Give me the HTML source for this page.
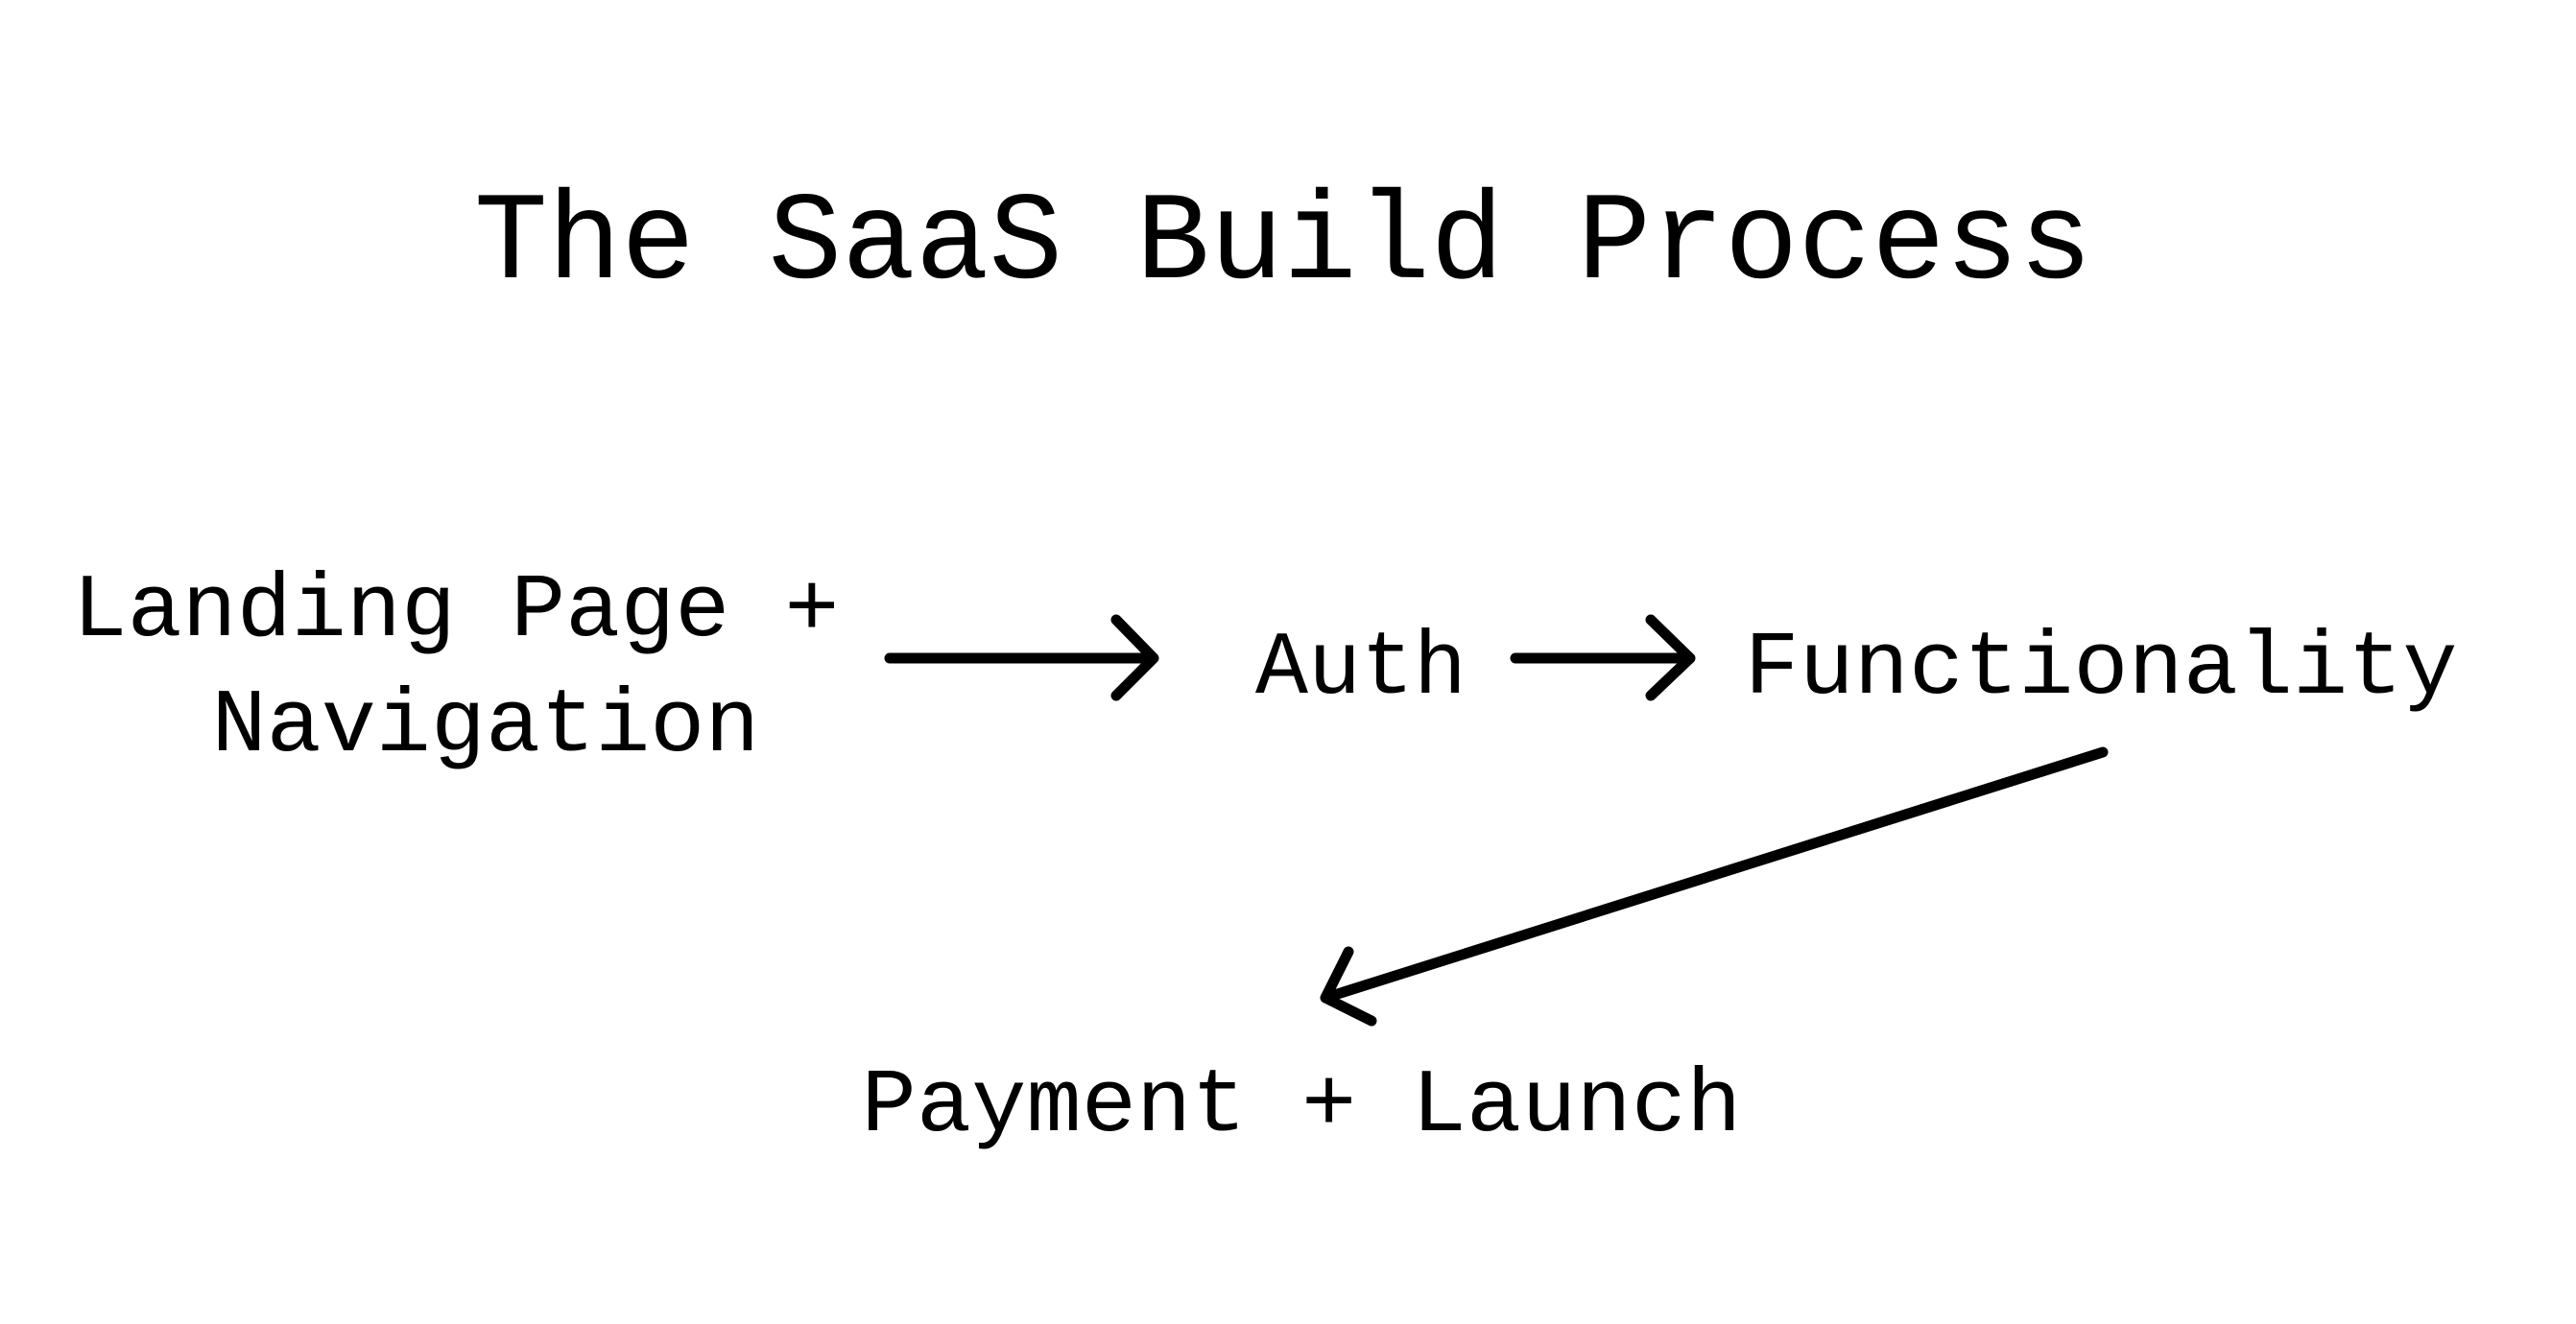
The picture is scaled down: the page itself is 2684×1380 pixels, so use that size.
<!DOCTYPE html>
<html><head><meta charset="utf-8"><style>
html,body{margin:0;padding:0;background:#fff;}
body{width:2684px;height:1380px;position:relative;overflow:hidden;}
svg{position:absolute;left:0;top:0;}
text{font-family:"Liberation Mono",monospace;fill:#000;}
</style></head><body>
<svg width="2684" height="1380" viewBox="0 0 2684 1380">
<g transform="translate(-8,-9)">
<text x="1345" y="298" font-size="130" text-anchor="middle" textLength="1686" lengthAdjust="spacingAndGlyphs">The SaaS Build Process</text>
<text x="483" y="671" font-size="94" text-anchor="middle" textLength="799" lengthAdjust="spacingAndGlyphs">Landing Page +</text>
<text x="514" y="791" font-size="94" text-anchor="middle" textLength="571" lengthAdjust="spacingAndGlyphs">Navigation</text>
<text x="1426" y="731" font-size="94" text-anchor="middle" textLength="220" lengthAdjust="spacingAndGlyphs">Auth</text>
<text x="2197" y="731" font-size="94" text-anchor="middle" textLength="743" lengthAdjust="spacingAndGlyphs">Functionality</text>
<text x="1364" y="1187" font-size="94" text-anchor="middle" textLength="917" lengthAdjust="spacingAndGlyphs">Payment + Launch</text>
</g>
<g transform="translate(-5,-4)" stroke="#000" stroke-width="11" fill="none" stroke-linecap="round" stroke-linejoin="round">
<path d="M932 690 L1207 690 M1168 650 L1207 690 L1168 729"/>
<path d="M1584 690 L1766 690 M1725 650 L1766 690 L1725 729"/>
<path d="M2196 788 L1386 1044 M1410 996 L1386 1044 L1434 1068"/>
</g>
</svg>
</body></html>
